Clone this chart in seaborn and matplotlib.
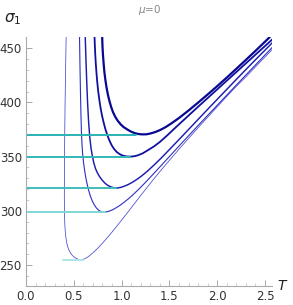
import numpy as np
import pandas as pd
import matplotlib
matplotlib.use('Agg')
import matplotlib.pyplot as plt
import seaborn as sns

# curves sigma_1(T) (lowest to highest)
T1 = [0.42, 0.414, 0.409, 0.405, 0.402, 0.401, 0.402, 0.405, 0.409, 0.415, 0.423, 0.433, 0.445,
      0.46, 0.478, 0.50, 0.525, 0.55, 0.575, 0.60, 0.63, 0.66, 0.70, 0.75, 0.80, 0.86, 0.92,
      0.99, 1.06, 1.14, 1.22, 1.31, 1.40, 1.50, 1.60, 1.70, 1.82, 1.94, 2.06, 2.18, 2.30, 2.42, 2.60]
S1 = [460, 430, 400, 370, 340, 315, 300, 290, 283, 277, 272, 268, 264.8,
      262, 259.6, 257.6, 256.1, 255.3, 255, 255.3, 256.5, 258.3, 261.3, 265.5, 270.2, 276.2, 282.6,
      290.3, 298.2, 307.3, 316.4, 326.5, 336.2, 346.6, 356.8, 366.8, 378.6, 390.2, 401.7, 413.1,
      423.6, 434.6, 451]

T2 = [0.56, 0.565, 0.57, 0.575, 0.58, 0.586, 0.593, 0.602, 0.613, 0.626, 0.64, 0.655, 0.672,
      0.69, 0.71, 0.735, 0.76, 0.79, 0.82, 0.85, 0.88, 0.91, 0.94, 0.98, 1.02, 1.07, 1.12, 1.18,
      1.25, 1.33, 1.42, 1.52, 1.62, 1.72, 1.84, 1.96, 2.08, 2.20, 2.32, 2.44, 2.60]
S2 = [460, 432, 408, 388, 372.5, 361, 352, 344.5, 337.5, 330.5, 324.5, 319, 314,
      309.8, 306.2, 302.8, 300.6, 299.2, 298.9, 299.2, 300, 301.2, 302.7, 304.9, 307.5, 311, 314.9, 320,
      326.3, 333.8, 342.4, 352, 361.6, 371.1, 382.4, 393.6, 404.8, 416, 427.1, 438.2, 453]

T3 = [0.62, 0.627, 0.635, 0.644, 0.655, 0.667, 0.68, 0.694, 0.71, 0.727, 0.747, 0.77, 0.795,
      0.825, 0.855, 0.89, 0.92, 0.95, 0.99, 1.03, 1.07, 1.11, 1.16, 1.21, 1.27, 1.34, 1.42, 1.50,
      1.60, 1.70, 1.80, 1.90, 2.0, 2.1, 2.2, 2.3, 2.4, 2.5, 2.585]
S3 = [460, 440, 420, 400, 382, 368, 358, 350.5, 344, 339, 335, 331.5, 328.5,
      325.6, 323.5, 322, 321.3, 321, 321.6, 322.8, 324.3, 326.2, 329, 332.2, 336.6, 342.3, 349.2, 356.5,
      365.7, 375, 384.3, 393.6, 402.8, 412, 421.2, 430.3, 439.3, 448.2, 455.8]

T4 = [0.717, 0.72, 0.724, 0.73, 0.737, 0.745, 0.755, 0.767, 0.78, 0.795, 0.812, 0.83, 0.85,
      0.872, 0.896, 0.922, 0.95, 0.98, 1.01, 1.05, 1.09, 1.13, 1.17, 1.22, 1.28, 1.34, 1.40, 1.48,
      1.56, 1.64, 1.72, 1.80, 1.90, 2.0, 2.1, 2.2, 2.3, 2.4, 2.5, 2.58]
S4 = [460, 453, 445, 436, 427.5, 419, 410.5, 402.5, 395, 388, 381.5, 375.5, 370,
      365, 360.5, 357, 354.2, 352.3, 351, 350.2, 350, 350.3, 351.2, 353, 356.2, 359.5, 363.5, 369.8,
      376.5, 383, 389.5, 396, 404, 412, 420, 428, 436, 444, 452, 458.4]

T5 = [0.797, 0.80, 0.805, 0.812, 0.82, 0.83, 0.842, 0.856, 0.872, 0.89, 0.91, 0.935, 0.96,
      0.99, 1.02, 1.06, 1.10, 1.14, 1.18, 1.22, 1.26, 1.30, 1.35, 1.40, 1.46, 1.52, 1.60, 1.70,
      1.80, 1.90, 2.0, 2.1, 2.2, 2.3, 2.4, 2.5, 2.55]
S5 = [460, 452, 444, 436, 428, 421, 414, 407.5, 401.5, 396, 391, 386.5, 383,
      379.8, 377.3, 375, 373, 371.6, 370.8, 370.5, 370.6, 371.3, 372.6, 374.4, 377.2, 380.6, 385.6, 392.5,
      399.8, 407.3, 415, 422.9, 431, 439.2, 447.5, 456, 460.3]

# horizontal levels: (T start, T end, sigma)
lvl_start = [0.39, 0.0, 0.0, 0.0, 0.0]
lvl_end = [0.60, 0.83, 0.94, 1.09, 1.15]
lvl_sigma = [255, 299, 321, 350, 370]

curve_T = [T1, T2, T3, T4, T5]
curve_S = [S1, S2, S3, S4, S5]
curve_colors = ['#4646d2', '#2e2ec0', '#1c1cae', '#10109e', '#080890']
curve_widths = [0.55, 0.8, 1.05, 1.3, 1.6]
lvl_colors = ['#ade5e5', '#80d6d6', '#3dbdbd', '#35b8b8', '#2ab3b3']

sns.set_style('ticks')
plt.rcParams['font.family'] = ['DejaVu Sans']

fig = plt.figure(figsize=(2.93, 3.05), dpi=100)
ax = fig.add_axes([0.0887, 0.0623, 0.8396, 0.8167])

for i in range(5):
    df = pd.DataFrame({'T': curve_T[i], 'sigma': curve_S[i]})
    sns.lineplot(data=df, x='T', y='sigma', sort=False, estimator=None,
                 color=curve_colors[i], linewidth=curve_widths[i], ax=ax)

for i in range(5):
    df = pd.DataFrame({'T': [lvl_start[i], lvl_end[i]], 'sigma': [lvl_sigma[i]] * 2})
    sns.lineplot(data=df, x='T', y='sigma', sort=False, estimator=None,
                 color=lvl_colors[i], linewidth=1.4, ax=ax)

ax.set_xlim(0, 2.573)
ax.set_ylim(230.7, 460.4)
ax.set_xticks([0.0, 0.5, 1.0, 1.5, 2.0, 2.5])
ax.set_xticklabels(['0.0', '0.5', '1.0', '1.5', '2.0', '2.5'])
ax.set_yticks([250, 300, 350, 400, 450])
ax.set_xticks(np.arange(0.1, 2.57, 0.1), minor=True)
ax.set_yticks(np.arange(240, 460, 10), minor=True)
ax.tick_params(which='major', direction='in', length=4, width=0.6, color='#999999',
               labelsize=8.5, labelcolor='#333333', pad=3)
ax.tick_params(which='minor', direction='in', length=2, width=0.5, color='#bbbbbb')
ax.set_xlabel('')
ax.set_ylabel('')
for s in ['top', 'right']:
    ax.spines[s].set_visible(False)
for s in ['left', 'bottom']:
    ax.spines[s].set_color('#aaaaaa')
    ax.spines[s].set_linewidth(0.8)

fig.text(0.512, 0.99, r'$\mu$=0', ha='center', va='top', fontsize=7.5, color='#888888')
fig.text(0.015, 0.91, r'$\sigma_1$', ha='left', va='bottom', fontsize=11, color='#222222')
fig.text(0.945, 0.062, r'$T$', ha='left', va='center', fontsize=10, color='#222222')

fig.savefig('out.png', dpi=100)
